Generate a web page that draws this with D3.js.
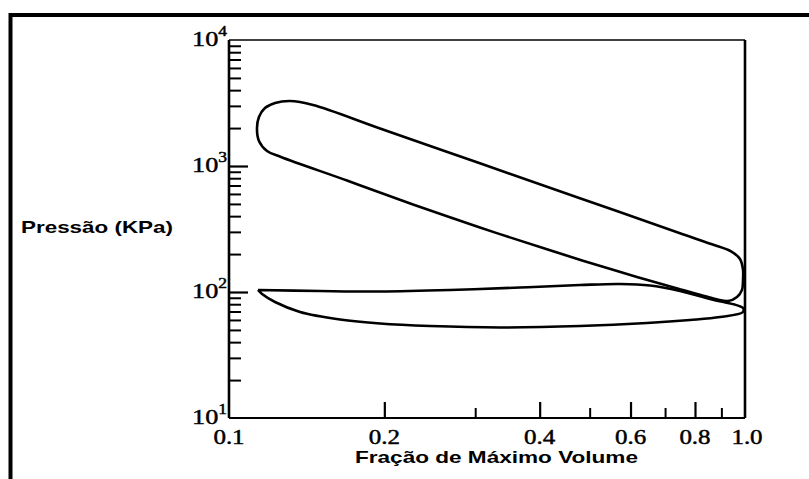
<!DOCTYPE html>
<html>
<head>
<meta charset="utf-8">
<script src="https://cdn.jsdelivr.net/npm/d3@7"></script>
<style>
  html, body { margin: 0; padding: 0; background: #fff; }
  svg { display: block; }
</style>
</head>
<body>
<svg id="chart" width="809" height="479"></svg>
<script>
// Log-log pressure / volume diagram of an engine cycle.

// Axis ticks
const xMajorTicks = [0.1, 0.2, 0.4, 0.6, 0.8, 1.0];
const xMajorLabels = ["0.1", "0.2", "0.4", "0.6", "0.8", "1.0"];
const xMinorTicks = [0.3, 0.5, 0.7, 0.9];
const yDecades = [10, 100, 1000, 10000];
const yExponents = ["1", "2", "3", "4"];

// Compression / combustion / expansion loop (closed, traced clockwise from the nose)
const highLoopVolume = [0.1133, 0.1143, 0.1174, 0.1228, 0.1313, 0.1455, 0.1962, 0.3064, 0.4787, 0.7482, 0.8630, 0.9395, 0.9779, 0.9911, 0.9911, 0.9867, 0.9650, 0.9269, 0.8180, 0.7482, 0.5548, 0.4132, 0.3064, 0.2273, 0.1693, 0.1261, 0.1185, 0.1143];
const highLoopPressure = [2001, 2448, 2885, 3162, 3280, 3049, 1987, 1050, 555, 293, 239, 210, 183, 150, 124, 104, 91.3, 84.8, 95.2, 105, 150, 218, 325, 495, 767, 1179, 1315, 1579];

// Gas exchange (pumping) loop, from the left tip along the upper branch and back
const lowLoopVolume = [0.1138, 0.1501, 0.1962, 0.2681, 0.3664, 0.4787, 0.5724, 0.6545, 0.7482, 0.8555, 0.9911, 0.9911, 0.8946, 0.7822, 0.6458, 0.4787, 0.3351, 0.2452, 0.1962, 0.1641, 0.1373, 0.1228, 0.1159, 0.1138];
const lowLoopPressure = [103.7, 101.8, 100.9, 103.7, 108.6, 113.6, 115.8, 112.6, 101.8, 88.0, 74.6, 69.4, 63.3, 59.9, 56.7, 53.7, 52.3, 53.7, 56.2, 60.5, 69.4, 83.3, 96.4, 103.7];

const svg = d3.select("#chart");
const plotLeft = 229, plotRight = 745, plotTop = 40, plotBottom = 418;

const x = d3.scaleLog().domain([0.1, 1]).range([plotLeft, plotRight]);
const y = d3.scaleLog().domain([10, 10000]).range([plotBottom, plotTop]);

// Heavy outer frame
svg.append("rect")
  .attr("x", 10.5).attr("y", 15)
  .attr("width", 900).attr("height", 600)
  .attr("fill", "none").attr("stroke", "#000").attr("stroke-width", 4);

// Plot box
const box = svg.append("g").attr("stroke", "#000").attr("fill", "none");
box.append("line").attr("x1", plotLeft).attr("x2", plotRight).attr("y1", plotTop).attr("y2", plotTop).attr("stroke-width", 1.6);
box.append("line").attr("x1", plotLeft).attr("x2", plotRight).attr("y1", plotBottom).attr("y2", plotBottom).attr("stroke-width", 2.2);
box.append("line").attr("x1", plotLeft).attr("x2", plotLeft).attr("y1", plotTop).attr("y2", plotBottom).attr("stroke-width", 2.6);
box.append("line").attr("x1", plotRight).attr("x2", plotRight).attr("y1", plotTop).attr("y2", plotBottom).attr("stroke-width", 2.6);

// Y ticks point inward from the left axis
const yMinor = [];
yDecades.slice(0, 3).forEach(d => { for (let k = 2; k <= 9; k++) yMinor.push(d * k); });

function styleAxis(g, w) {
  g.select(".domain").remove();
  g.selectAll(".tick line").attr("stroke", "#000").attr("stroke-width", w);
  g.selectAll(".tick text").remove();
}

svg.append("g").attr("transform", `translate(${plotLeft},0)`)
  .call(d3.axisRight(y).tickValues(yMinor).tickSize(12).tickFormat(""))
  .call(g => styleAxis(g, 2));
svg.append("g").attr("transform", `translate(${plotLeft},0)`)
  .call(d3.axisRight(y).tickValues(yDecades.slice(1, 3)).tickSize(19).tickFormat(""))
  .call(g => styleAxis(g, 2.2));

// X ticks point upward from the bottom axis
svg.append("g").attr("transform", `translate(0,${plotBottom})`)
  .call(d3.axisTop(x).tickValues(xMinorTicks).tickSize(10).tickFormat(""))
  .call(g => styleAxis(g, 2));
svg.append("g").attr("transform", `translate(0,${plotBottom})`)
  .call(d3.axisTop(x).tickValues(xMajorTicks.slice(1, 5)).tickSize(16).tickFormat(""))
  .call(g => styleAxis(g, 2.2));

// Tick labels: heavy serif, slightly widened
const sx = 1.25;
const serif = "'Liberation Serif', 'DejaVu Serif', serif";

const yLab = svg.append("g");
yDecades.forEach((d, i) => {
  const g = yLab.append("g").attr("transform", `translate(227,${y(d) + 6}) scale(${sx},1)`);
  const t = g.append("text")
    .attr("text-anchor", "end")
    .attr("font-family", serif)
    .attr("font-size", 21)
    .attr("fill", "#000").attr("stroke", "#000").attr("stroke-width", 0.45);
  t.append("tspan").text("10");
  t.append("tspan").attr("font-size", 14).attr("dy", -10).text(yExponents[i]);
});

const xLab = svg.append("g");
xMajorTicks.forEach((v, i) => {
  const g = xLab.append("g").attr("transform", `translate(${x(v) + (i === 5 ? 2 : 0)},444) scale(${sx},1)`);
  g.append("text")
    .attr("text-anchor", "middle")
    .attr("font-family", serif)
    .attr("font-size", 20)
    .attr("fill", "#000").attr("stroke", "#000").attr("stroke-width", 0.45)
    .text(xMajorLabels[i]);
});

// Axis titles
const sans = "'Liberation Sans', Arial, sans-serif";
svg.append("text")
  .attr("x", 21).attr("y", 233)
  .attr("font-family", sans).attr("font-weight", "bold").attr("font-size", 17)
  .attr("textLength", 152).attr("lengthAdjust", "spacingAndGlyphs")
  .text("Pressão (KPa)");
svg.append("text")
  .attr("x", 355).attr("y", 463)
  .attr("font-family", sans).attr("font-weight", "bold").attr("font-size", 17)
  .attr("textLength", 283).attr("lengthAdjust", "spacingAndGlyphs")
  .text("Fração de Máximo Volume");

// Cycle curves
const highPts = highLoopVolume.map((v, i) => [v, highLoopPressure[i]]);
const lowPts = lowLoopVolume.map((v, i) => [v, lowLoopPressure[i]]);

svg.append("path")
  .attr("d", d3.line().x(d => x(d[0])).y(d => y(d[1])).curve(d3.curveCatmullRomClosed.alpha(0.5))(highPts))
  .attr("fill", "none").attr("stroke", "#000").attr("stroke-width", 2.6).attr("stroke-linejoin", "round");

svg.append("path")
  .attr("d", d3.line().x(d => x(d[0])).y(d => y(d[1])).curve(d3.curveCatmullRom.alpha(0.5))(lowPts))
  .attr("fill", "none").attr("stroke", "#000").attr("stroke-width", 2.6).attr("stroke-linejoin", "round");
</script>
</body>
</html>
